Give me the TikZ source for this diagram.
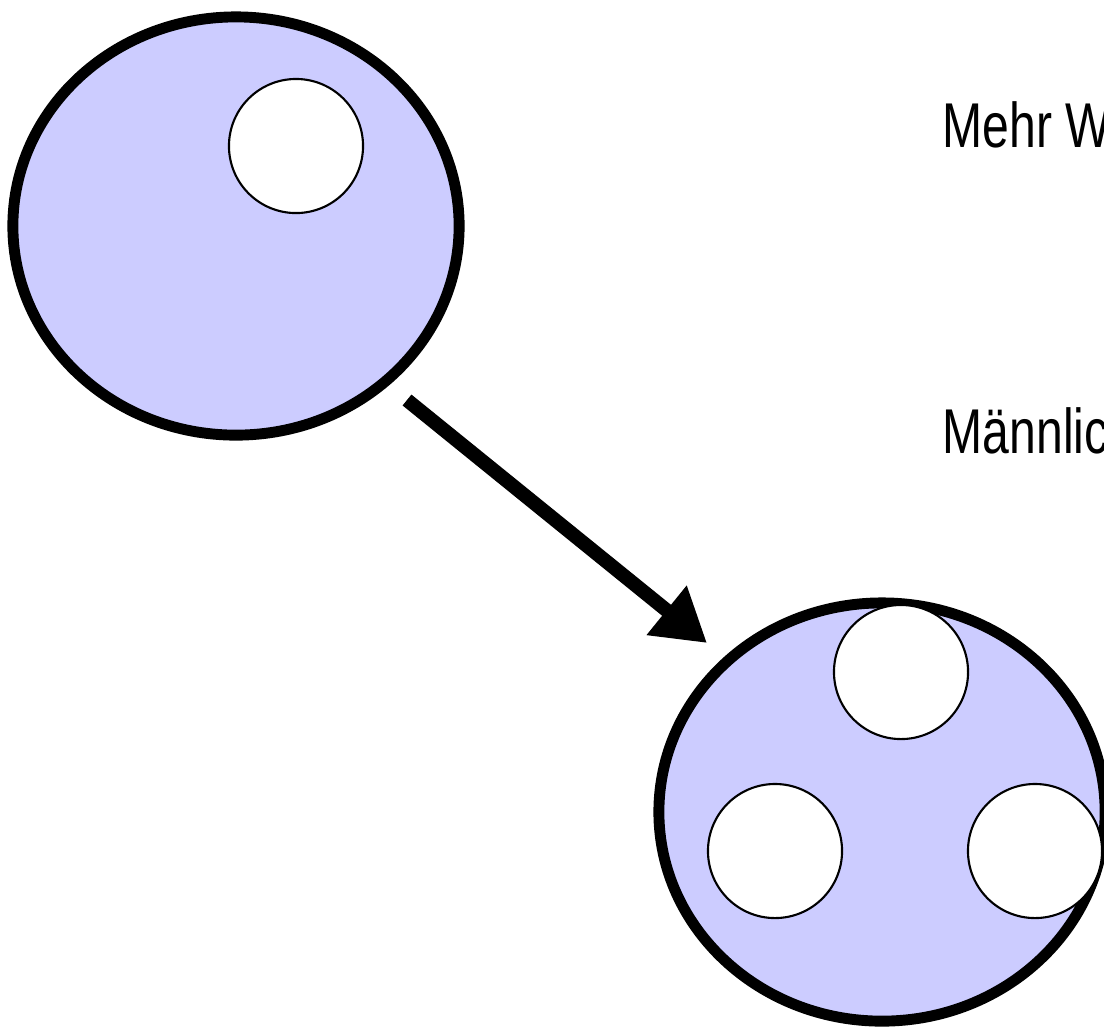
\documentclass[tikz,border=0pt]{standalone}
\usepackage{fontspec}
\usepackage{graphicx}
\setmainfont{Liberation Sans}
\usetikzlibrary{shapes.geometric,arrows.meta}

\definecolor{cellblue}{RGB}{204,204,255}

\begin{document}
\begin{tikzpicture}[x=0.01cm, y=-0.01cm,
	cell/.style={ellipse, draw, line width=3.1pt, fill=cellblue, inner sep=0pt, minimum width=4.46cm, minimum height=4.18cm},
	nucleus/.style={circle, draw, line width=0.6pt, fill=white, inner sep=0pt, minimum size=1.34cm},
	label/.style={anchor=base west, inner sep=0pt, font=\fontsize{18}{20}\selectfont}]
\useasboundingbox (0,0) rectangle (1104,1026);
\clip (0,0) rectangle (1104,1026);

% first cell, one nucleus
\node[cell] (mother) at (236,226) {};
\node[nucleus] (n1) at (296,146) {};

% second cell, three nuclei
\node[cell] (daughter) at (882,812) {};
\node[nucleus] (n2) at (901,672) {};
\node[nucleus] (n3) at (775,851) {};
\node[nucleus] (n4) at (1035,851) {};

% arrow between them
\coordinate (from) at (407,400);
\coordinate (to) at (707,643);
\draw[line width=4pt, -{Triangle[length=0.52cm, width=0.6cm]}] (from) -- (to);

\node[label] (t1) at (942,147) {\scalebox{0.76}[1]{Mehr W}};
\node[label] (t2) at (942,453) {\scalebox{0.76}[1]{Männlic}};
\end{tikzpicture}
\end{document}
